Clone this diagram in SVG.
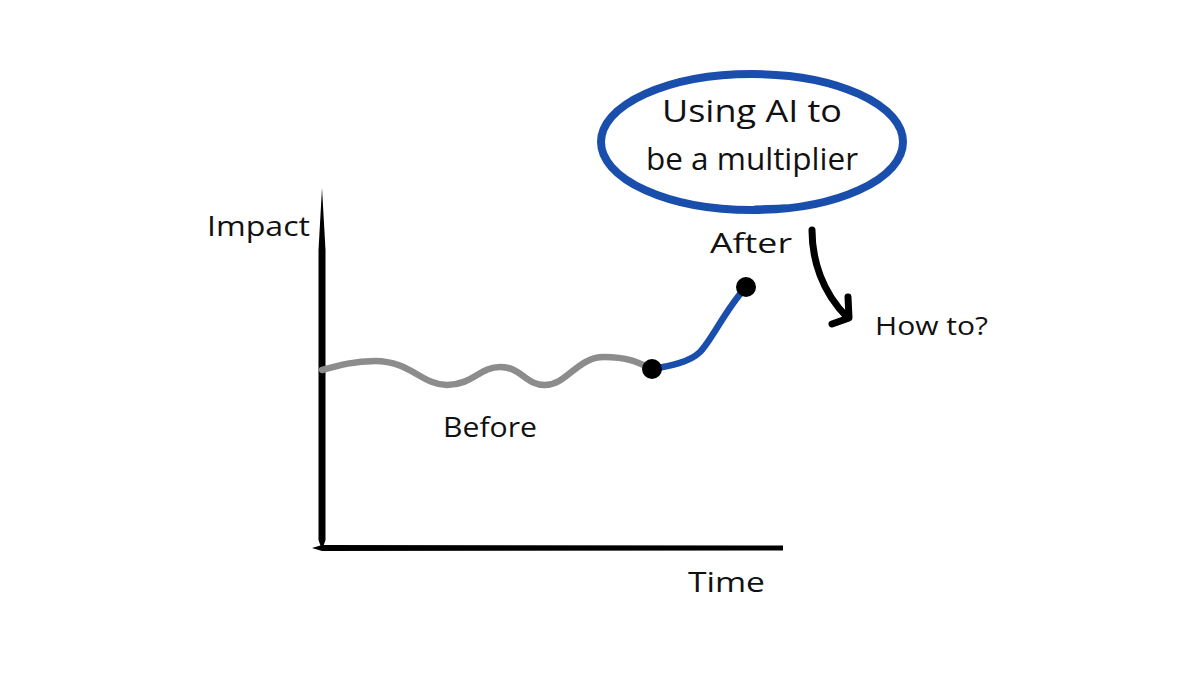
<svg xmlns="http://www.w3.org/2000/svg" width="1200" height="675" viewBox="0 0 1200 675">
<style>
.t{font-family:"Open Sans","Liberation Sans",sans-serif;fill:#111;}
</style>
<rect width="1200" height="675" fill="#fff"/>
<g id="axes">
<path d="M322,188 L318.5,250 L318.5,540 L322,550 L325.5,540 L325.5,250 Z" fill="#000"/>
<path d="M312,548 L322,545 L783,545.5 L783,550.5 L322,551 Z" fill="#000"/>
</g>
<g id="connectors">
<path id="before-line" d="M322,370 C340,365 355,361 375,361 C410,361 422,385 447,385 C472,385 480,367 500,367 C522,367 525,385 545,385 C567,385 577,357 604,357 C627,357 638,362 652,369" fill="none" stroke="#8c8c8c" stroke-width="6.5" stroke-linecap="round"/>
<path id="after-line" d="M652,369 C670,366 690,362 700,352 C712,340 725,310 746,287" fill="none" stroke="#1a4ead" stroke-width="6.5" stroke-linecap="round"/>
<path id="how-arrow" d="M812,230 C812,260 822,292 847,317" fill="none" stroke="#000" stroke-width="7" stroke-linecap="round"/>
<path d="M848,297 L849,318 L832,324" fill="none" stroke="#000" stroke-width="7" stroke-linecap="round" stroke-linejoin="round"/>
</g>
<g id="dot-start"><circle cx="652" cy="369" r="10" fill="#000"/></g>
<g id="dot-end"><circle cx="746" cy="287" r="10" fill="#000"/></g>
<g id="bubble">
<ellipse cx="752" cy="142" rx="151" ry="68" fill="#fff" stroke="#1a4ead" stroke-width="8"/>
<path d="M755,208 L785,207" stroke="#1a4ead" stroke-width="5" stroke-linecap="round"/>
<text class="t" x="752" y="122" font-size="31" text-anchor="middle" textLength="180" lengthAdjust="spacingAndGlyphs">Using AI to</text>
<text class="t" x="752" y="170" font-size="31" text-anchor="middle" textLength="212" lengthAdjust="spacingAndGlyphs">be a multiplier</text>
</g>
<g id="label-impact"><text class="t" x="207" y="236" font-size="27" textLength="103" lengthAdjust="spacingAndGlyphs">Impact</text></g>
<g id="label-after"><text class="t" x="710" y="253" font-size="27" textLength="82" lengthAdjust="spacingAndGlyphs">After</text></g>
<g id="label-howto"><text class="t" x="875" y="335" font-size="25" textLength="113" lengthAdjust="spacingAndGlyphs">How to?</text></g>
<g id="label-before"><text class="t" x="443" y="437" font-size="27" textLength="94" lengthAdjust="spacingAndGlyphs">Before</text></g>
<g id="label-time"><text class="t" x="688" y="592" font-size="27" textLength="77" lengthAdjust="spacingAndGlyphs">Time</text></g>
</svg>
